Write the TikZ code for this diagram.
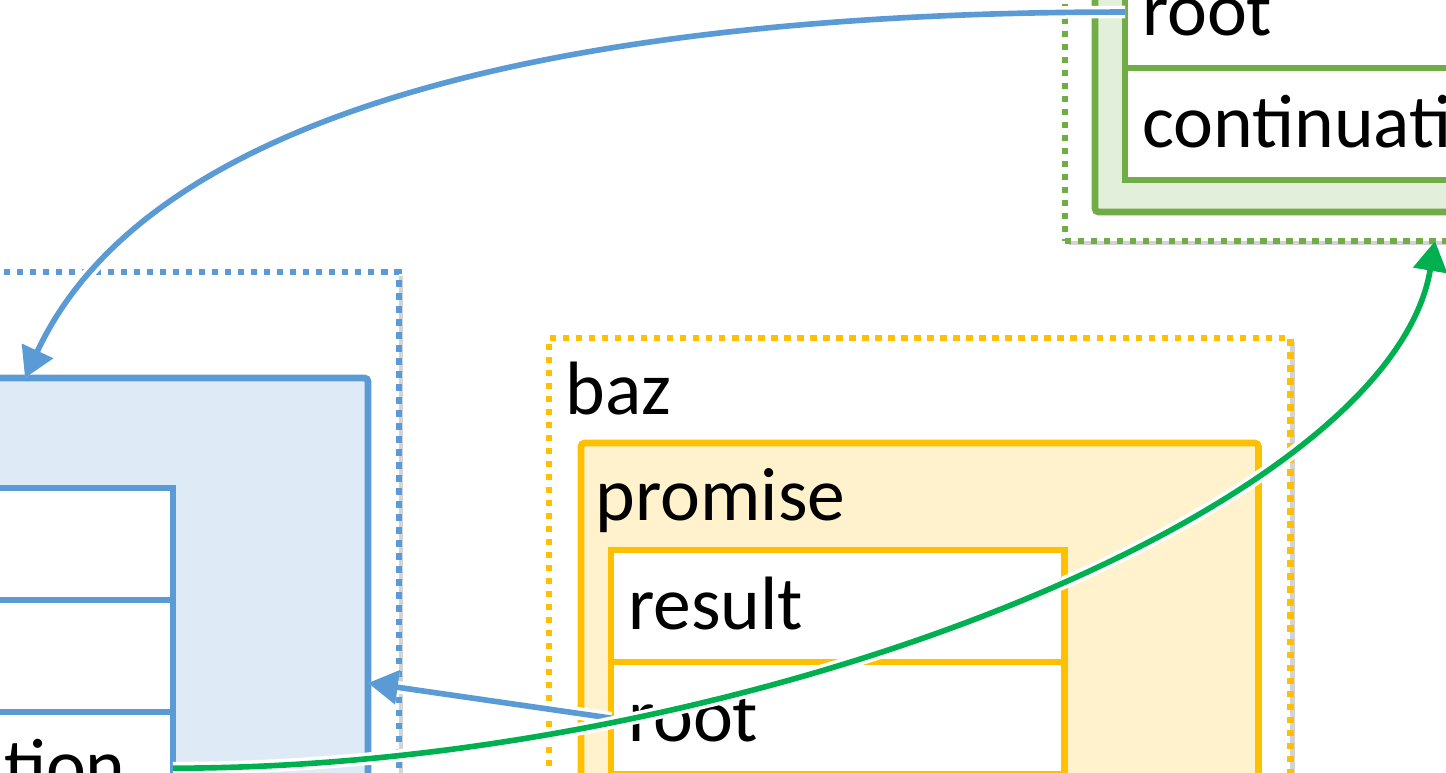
\documentclass[tikz,border=0pt]{standalone}
\usepackage{fontspec}
\setmainfont{Carlito}
\usetikzlibrary{positioning,arrows.meta,shadows}
\definecolor{ppBlue}{HTML}{5B9BD5}
\definecolor{ppBlueFill}{HTML}{DEEBF7}
\definecolor{ppGreen}{HTML}{70AD47}
\definecolor{ppGreenFill}{HTML}{E2EFDA}
\definecolor{ppYellow}{HTML}{FFC000}
\definecolor{ppYellowFill}{HTML}{FFF2CC}
\definecolor{ppArrowGreen}{HTML}{00B050}
\newcommand{\boxfont}{\fontsize{21.5}{26}\selectfont}

\begin{document}
\begin{tikzpicture}[x=0.01cm, y=-0.01cm, >={Triangle[length=8.5pt, width=9.5pt]},
    frame/.style={draw=#1, fill=white, line width=1.8pt, dash pattern=on 1.8pt off 1.9pt,
        drop shadow={shadow xshift=1.2pt, shadow yshift=-1.2pt, opacity=0.35},
        inner sep=0pt, outer sep=0pt},
    body/.style={draw=#1, line width=1.9pt, rounded corners=1pt, inner sep=0pt, outer sep=0pt},
    field/.style={draw=#1, fill=white, line width=1.9pt, anchor=north west,
        inner xsep=0.17cm, inner ysep=0pt, outer sep=0pt, text width=4.19cm, align=left,
        minimum height=1.12cm, text height=0.6cm, text depth=0.14cm, font=\boxfont},
    caption/.style={anchor=base west, inner sep=0pt, font=\boxfont},
    link/.style={->, draw=#1, line width=1.6pt, preaction={draw=white, line width=3.6pt}}
]
    \useasboundingbox (0,0) rectangle (1446,772);
    \clip (0,0) rectangle (1446,772);

    % Green frame (top right)
    \node[frame=ppGreen, minimum width=7.35cm, minimum height=3.91cm, anchor=south west] (gFrame) at (1065,241) {};
    \node[body=ppGreen, fill=ppGreenFill, minimum width=7cm, minimum height=3.32cm, anchor=south west] (gBody) at (1095,212) {};
    \node[field=ppGreen, text width=5cm] (gRoot) at (1125,-44) {root};
    \node[field=ppGreen, text width=5cm, below=0pt of gRoot] (gCont) {continuation};

    % Blue frame (left)
    \node[frame=ppBlue, minimum width=7.99cm, minimum height=8.28cm, anchor=north east] (bFrame) at (399,272) {};
    \node[body=ppBlue, fill=ppBlueFill, minimum width=7.38cm, minimum height=6.92cm, anchor=north east] (bBody) at (368,378) {};
    \node[field=ppBlue, anchor=north east] (bResult) at (173,488) {};
    \node[field=ppBlue, below=0pt of bResult] (bRoot) {};
    \node[field=ppBlue, below=0pt of bRoot] (bCont) {continuation};

    % Yellow frame: baz
    \node[frame=ppYellow, minimum width=7.41cm, minimum height=7.62cm, anchor=north west] (yFrame) at (549,338) {};
    \node[caption] (bazLbl) at (565,414) {baz};
    \node[body=ppYellow, fill=ppYellowFill, minimum width=6.77cm, minimum height=6cm, anchor=north west] (yBody) at (581,443) {};
    \node[caption] (promiseLbl) at (595,520) {promise};
    \node[field=ppYellow] (yResult) at (611,550) {result};
    \node[field=ppYellow, below=0pt of yResult] (yRoot) {root};

    % Arrow ends
    \coordinate (bTop) at (25,378);
    \coordinate (bSide) at (368,683);
    \coordinate (gTip) at (1435,241);

    % Links
    \draw[link=ppBlue] (gRoot.west) .. controls +(-520,0) and +(130,-280) .. (bTop);
    \draw[link=ppBlue] (yRoot.west) -- (bSide);
    \draw[link=ppArrowGreen] (bCont.east) .. controls +(570,0) and +(-45,270) .. (gTip);

\end{tikzpicture}
\end{document}
